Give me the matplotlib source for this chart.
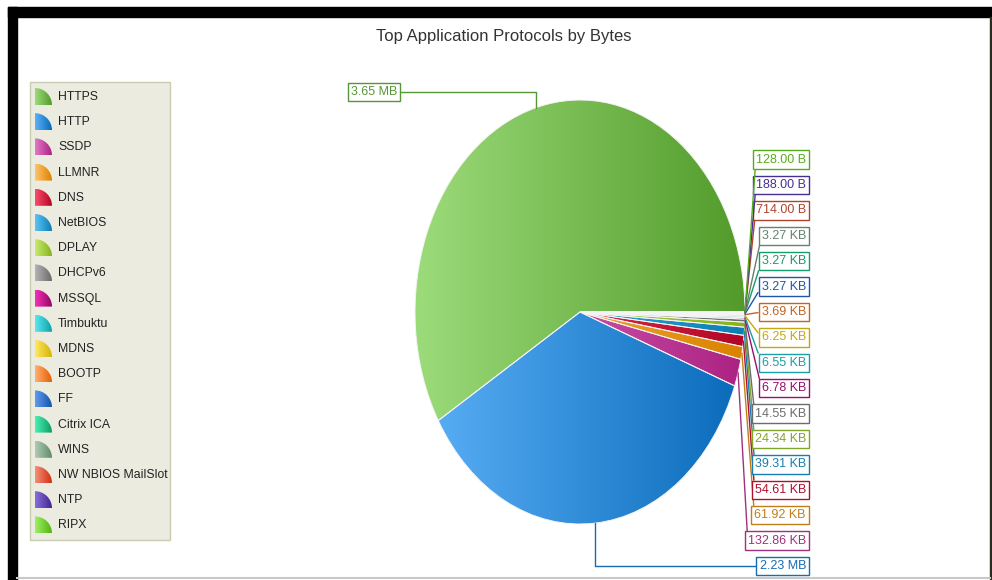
import colorsys

import numpy as np
import matplotlib
matplotlib.use("Agg")
import matplotlib.pyplot as plt
from matplotlib.colors import LinearSegmentedColormap, to_rgb
from matplotlib.patches import Wedge, Rectangle

protocols = [
    "HTTPS", "HTTP", "SSDP", "LLMNR", "DNS", "NetBIOS", "DPLAY", "DHCPv6",
    "MSSQL", "Timbuktu", "MDNS", "BOOTP", "FF", "Citrix ICA", "WINS",
    "NW NBIOS MailSlot", "NTP", "RIPX",
]
# traffic volume in KB
bytes_kb = [
    3737.6, 2283.52, 132.86, 61.92, 54.61, 39.31, 24.34, 14.55,
    6.78, 6.55, 6.25, 3.69, 3.27, 3.27, 3.27, 0.714, 0.188, 0.128,
]
size_labels = [
    "3.65 MB", "2.23 MB", "132.86 KB", "61.92 KB", "54.61 KB", "39.31 KB",
    "24.34 KB", "14.55 KB", "6.78 KB", "6.55 KB", "6.25 KB", "3.69 KB",
    "3.27 KB", "3.27 KB", "3.27 KB", "714.00 B", "188.00 B", "128.00 B",
]
base_colors = [
    "#6fc043", "#1d8ae4", "#cc3fa2", "#f9a11f", "#e0163a", "#1fa2e0",
    "#a6d436", "#8a8a8a", "#c0158a", "#22cad3", "#fbd817", "#f7812a",
    "#2670d6", "#1ec88b", "#83a68a", "#e2573b", "#5b3db8", "#6fdc26",
]


def mix(color, other, t):
    a = np.array(to_rgb(color))
    b = np.array(to_rgb(other))
    return tuple(a * (1 - t) + b * t)


def shade(color, dl):
    h, l, s = colorsys.rgb_to_hls(*to_rgb(color))
    return colorsys.hls_to_rgb(h, min(max(l + dl, 0), 1), min(s * 1.15, 1))


def gradient_cmap(color):
    return LinearSegmentedColormap.from_list(
        "g", [shade(color, 0.16), shade(color, -0.12)]
    )


plt.rcParams["font.family"] = ["Liberation Sans", "DejaVu Sans"]

W, H = 992, 580
fig = plt.figure(figsize=(W / 100, H / 100), dpi=100)
fig.patch.set_facecolor("white")

# overlay in pixel coordinates for frame, title and legend
ov = fig.add_axes([0, 0, 1, 1])
ov.set_xlim(0, W)
ov.set_ylim(H, 0)
ov.axis("off")

ov.add_patch(Rectangle((8, 7), W - 8, 10, color="black"))
ov.add_patch(Rectangle((8, 7), 9, H - 7, color="black"))
ov.add_patch(Rectangle((990, 17), 2, H - 17, color="#2b2b1f"))
ov.plot([17, 990], [578, 578], color="#c8c8c8", lw=1.5)

ov.text(504, 37, "Top Application Protocols by Bytes", ha="center",
        va="center", fontsize=12, color="#333333")

# legend
ov.add_patch(Rectangle((30, 82), 140, 458, facecolor="#ecebe0",
                       edgecolor="#c9ccb2", lw=1, zorder=1))
grad = np.linspace(0, 1, 64).reshape(1, -1)
for i, (name, base) in enumerate(zip(protocols, base_colors)):
    yc = 97 + 25.2 * i
    x0, y0, r = 35, yc + 8, 17
    icon = Wedge((x0, y0), r, -90, 0, facecolor="none", edgecolor="none")
    ov.add_patch(icon)
    im = ov.imshow(grad, cmap=gradient_cmap(base), extent=(x0, x0 + r, y0, y0 - r),
                   aspect="auto", interpolation="bilinear", zorder=3)
    im.set_clip_path(icon)
    ov.text(58, yc, name, ha="left", va="center", fontsize=8.8, color="#222222")
ov.set_xlim(0, W)
ov.set_ylim(H, 0)

# pie, stretched into an ellipse
cx, cy, rx, ry = 580, 312, 165, 212
pie_ax = fig.add_axes([(cx - rx) / W, (H - cy - ry) / H, 2 * rx / W, 2 * ry / H])
wedges, _ = pie_ax.pie(
    bytes_kb, startangle=0, counterclock=True,
    wedgeprops=dict(facecolor="none", edgecolor="#f4f4f4", linewidth=0.7),
)
for w, base in zip(wedges, base_colors):
    w.set_zorder(3)
    im = pie_ax.imshow(grad, cmap=gradient_cmap(base), extent=(-1, 1, -1, 1),
                       aspect="auto", interpolation="bilinear", zorder=2)
    im.set_clip_path(w)
pie_ax.set_aspect("auto")
pie_ax.set_xlim(-1, 1)
pie_ax.set_ylim(-1, 1)
pie_ax.axis("off")

for i, (w, text, base) in enumerate(zip(wedges, size_labels, base_colors)):
    theta = np.deg2rad((w.theta1 + w.theta2) / 2)
    xy = (np.cos(theta), np.sin(theta))
    dark = mix(base, "black", 0.22)
    if i == 0:
        pos, rel = (397, 92), (1, 0.5)
        conn = "angle,angleA=0,angleB=90,rad=0"
    elif i == 1:
        pos, rel = (806, 566), (0, 0.5)
        conn = "angle,angleA=0,angleB=90,rad=0"
    else:
        pos, rel = (806, 566 - 25.4 * (i - 1)), (0, 0.5)
        conn = "arc3,rad=0"
    pie_ax.annotate(
        text, xy=xy, xycoords="data", xytext=pos, textcoords=ov.transData,
        ha="right", va="center", fontsize=9, color=dark, annotation_clip=False,
        bbox=dict(boxstyle="square,pad=0.25", fc="white", ec=dark, lw=1),
        arrowprops=dict(arrowstyle="-", color=dark, lw=1, relpos=rel,
                        shrinkA=0, shrinkB=0, connectionstyle=conn),
    )

fig.savefig("out.png", dpi=100)
